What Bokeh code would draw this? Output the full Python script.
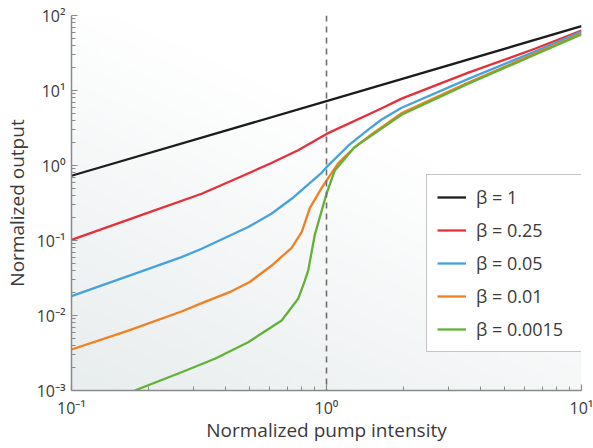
import numpy as np
from bokeh.plotting import figure
from bokeh.models import Span, CustomJSTickFormatter, FixedTicker, Range1d
from bokeh.embed import file_html
from bokeh.resources import INLINE

# ---- data ----
x_b1 = [0.1, 1.0, 10.0]
y_b1 = [0.73, 7.2, 72.0]

x_b025 = [0.1, 0.2, 0.324, 0.5, 0.608, 0.774, 1.0, 1.64, 1.97, 3.6, 6.56, 10.0]
y_b025 = [0.102, 0.235, 0.42, 0.80, 1.08, 1.6, 2.64, 5.75, 7.8, 17.3, 36.0, 63.0]

x_b005 = [0.1, 0.193, 0.27, 0.324, 0.493, 0.608, 0.73, 0.956, 1.0, 1.22, 1.5, 1.64, 1.97, 3.6, 6.56, 10.0]
y_b005 = [0.0181, 0.04, 0.06, 0.0776, 0.151, 0.227, 0.36, 0.8, 0.95, 1.85, 3.24, 4.07, 5.9, 14.3, 33.0, 61.0]

x_b001 = [0.1, 0.167, 0.27, 0.324, 0.424, 0.5, 0.608, 0.73, 0.8, 0.86, 0.956, 1.015, 1.11, 1.29, 1.5, 1.97, 3.6, 6.56, 10.0]
y_b001 = [0.00352, 0.0063, 0.0113, 0.0146, 0.021, 0.028, 0.046, 0.08, 0.13, 0.27, 0.5, 0.68, 1.07, 1.75, 2.6, 5.0, 12.8, 31.0, 58.0]

x_b00015 = [0.177, 0.27, 0.365, 0.493, 0.667, 0.774, 0.822, 0.848, 0.9, 1.0, 1.078, 1.29, 1.5, 1.97, 3.6, 6.56, 10.0]
y_b00015 = [0.001, 0.00175, 0.00265, 0.0044, 0.00858, 0.0167, 0.029, 0.04, 0.12, 0.42, 0.86, 1.76, 2.5, 4.74, 12.3, 30.0, 56.0]

series_labels = ["β = 1", "β = 0.25", "β = 0.05", "β = 0.01", "β = 0.0015"]
series_colors = ["#1c1c1c", "#e5303a", "#45a2dc", "#f27f22", "#61b236"]
threshold = 1.0

x_major = [0.1, 1.0, 10.0]
y_major = [1e-3, 1e-2, 1e-1, 1.0, 1e1, 1e2]

x_lo, x_hi = 0.1, 10.0
y_lo, y_hi = 1e-3, 1e2


def minors(majors):
    out = []
    for m in majors[:-1]:
        out += [m * k for k in range(2, 10)]
    return out


FONT = "Open Sans"
TXT = "#3a3a3a"
AX = "#8a8a8a"

p = figure(
    frame_width=510, frame_height=375,
    min_border_left=70, min_border_right=13, min_border_top=15, min_border_bottom=58,
    x_axis_type="log", y_axis_type="log",
    x_range=Range1d(x_lo, x_hi), y_range=Range1d(y_lo, y_hi),
    output_backend="svg", toolbar_location=None,
)
p.outline_line_color = None
p.grid.visible = False
p.background_fill_color = "white"
p.border_fill_color = "white"

# soft background gradient (decoration only)
n = 120
u = np.linspace(0, 1, n)[None, :]
v = np.linspace(0, 1, n)[:, None]
t = np.clip(0.6 * u + 0.95 * v, 0, 1)
dark = np.array([232, 237, 238])
img = np.empty((n, n), dtype=np.uint32)
view = img.view(dtype=np.uint8).reshape((n, n, 4))
for k in range(3):
    view[:, :, k] = (dark[k] + (255 - dark[k]) * t).astype(np.uint8)
view[:, :, 3] = 255
p.image_rgba(image=[img], x=x_lo, y=y_lo, dw=x_hi - x_lo, dh=y_hi - y_lo)

# threshold marker
p.add_layout(Span(location=threshold, dimension="height", line_color="#6e6e6e",
                  line_width=1.6, line_dash="6 5"))

xs = [x_b1, x_b025, x_b005, x_b001, x_b00015]
ys = [y_b1, y_b025, y_b005, y_b001, y_b00015]
for xx, yy, lab, col in zip(xs, ys, series_labels, series_colors):
    p.line(xx, yy, line_color=col, line_width=2.3, legend_label=lab, line_join="round")

fmt = CustomJSTickFormatter(code="""
const e = Math.round(Math.log10(tick));
const sup = {'-':'\u207B','0':'\u2070','1':'\u00B9','2':'\u00B2','3':'\u00B3',
             '4':'\u2074','5':'\u2075','6':'\u2076','7':'\u2077','8':'\u2078','9':'\u2079'};
return '10' + String(e).split('').map(c => sup[c]).join('');
""")

p.xaxis[0].ticker = FixedTicker(ticks=x_major, minor_ticks=minors(x_major))
p.yaxis[0].ticker = FixedTicker(ticks=y_major, minor_ticks=minors(y_major))

for ax in (p.xaxis[0], p.yaxis[0]):
    ax.formatter = fmt
    ax.axis_line_color = AX
    ax.axis_line_width = 1.5
    ax.major_tick_line_color = AX
    ax.minor_tick_line_color = AX
    ax.major_tick_line_width = 1.2
    ax.minor_tick_line_width = 1.0
    ax.major_tick_in = 6
    ax.major_tick_out = 0
    ax.minor_tick_in = 4
    ax.minor_tick_out = 0
    ax.major_label_text_font = FONT
    ax.major_label_text_font_size = "16px"
    ax.major_label_text_color = TXT
    ax.axis_label_text_font = FONT
    ax.axis_label_text_font_size = "19px"
    ax.axis_label_text_font_style = "normal"
    ax.axis_label_text_color = TXT

p.xaxis.axis_label = "Normalized pump intensity"
p.yaxis.axis_label = "Normalized output"
p.xaxis.major_label_standoff = 6
p.xaxis.axis_label_standoff = -5
p.yaxis.major_label_standoff = 6
p.yaxis.axis_label_standoff = 4

lg = p.legend[0]
lg.location = (355, 38)
lg.border_line_color = "#8a8a8a"
lg.border_line_width = 1.5
lg.background_fill_color = "white"
lg.background_fill_alpha = 1.0
lg.label_text_font = FONT
lg.label_text_font_size = "18px"
lg.label_text_color = TXT
lg.glyph_width = 29
lg.glyph_height = 20
lg.label_height = 20
lg.label_width = 98
lg.label_standoff = 10
lg.spacing = 9
lg.padding = 10
lg.margin = 0

open("out.html", "w").write(file_html(p, INLINE))
